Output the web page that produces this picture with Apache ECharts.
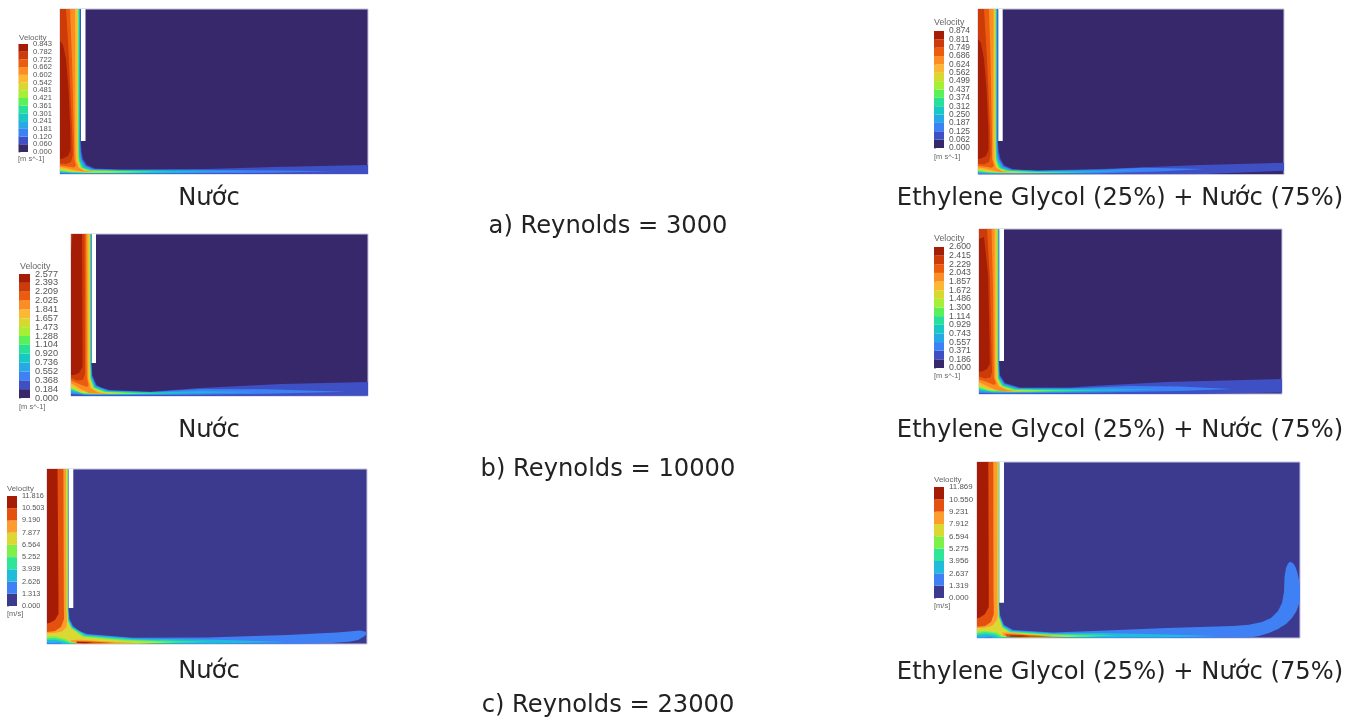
<!DOCTYPE html>
<html>
<head>
<meta charset="utf-8">
<title>Velocity contours</title>
<script src="https://cdn.jsdelivr.net/npm/echarts@6/dist/echarts.min.js"></script>
<style>
html, body { margin: 0; background: #fff; }
#chart { width: 1364px; height: 720px; filter: blur(0.5px); }
</style>
</head>
<body>
<div id="chart"></div>
<script>
// legend tick labels, bottom to top
var ticksA1 = ['0.000','0.060','0.120','0.181','0.241','0.301','0.361','0.421','0.481','0.542','0.602','0.662','0.722','0.782','0.843'];
var ticksA2 = ['0.000','0.062','0.125','0.187','0.250','0.312','0.374','0.437','0.499','0.562','0.624','0.686','0.749','0.811','0.874'];
var ticksB1 = ['0.000','0.184','0.368','0.552','0.736','0.920','1.104','1.288','1.473','1.657','1.841','2.025','2.209','2.393','2.577'];
var ticksB2 = ['0.000','0.186','0.371','0.557','0.743','0.929','1.114','1.300','1.486','1.672','1.857','2.043','2.229','2.415','2.600'];
var ticksC1 = ['0.000','1.313','2.626','3.939','5.252','6.564','7.877','9.190','10.503','11.816'];
var ticksC2 = ['0.000','1.319','2.637','3.956','5.275','6.594','7.912','9.231','10.550','11.869'];

var colors14 = ['#36286a','#3f4fc4','#3d82f4','#27a9e6','#17c8c4','#28e09a','#5af05a','#a5ef34','#d8d92e','#fdb833','#fb8d22','#eb5c0f','#cc3b08','#a51d04'];
var colors9 = ['#3c3a8e','#3f80f5','#21bcdc','#2fe59a','#7df04a','#dcd833','#fe9c2e','#e4500d','#a51b04'];

// contour bands [level, outline], painted low to high
var wallA1 = [[21,0],[25.5,0],[25.5,132],[21,132]];
var contoursA1 = [
	[1,[[20.8,0],[20.8,132],[21.5,142],[23,150],[27,156],[35,159.5],[57,160.4],[147,160],[213,158],[308,156],[308,165],[0,165],[0,0]]],
	[2,[[20.3,0],[20.3,133],[20.8,143],[22,150.5],[26,156.8],[34,160],[60,160.8],[150,160.8],[220,161.4],[273,162.3],[210,163.8],[120,164.6],[20,164.8],[0,164.6],[0,0]]],
	[3,[[19.8,0],[19.8,133],[20.1,144],[21.2,151],[25,157.4],[33,160.4],[60,161.1],[130,161.6],[187,162.5],[120,164],[40,164.4],[15,164.4],[0,164],[0,0]]],
	[4,[[19.3,0],[19.3,133],[19.5,145],[20.5,151.5],[24,158],[32,160.8],[60,161.5],[110,162],[147,162.6],[100,163.8],[40,164.1],[14,164],[0,163.4],[0,0]]],
	[5,[[18.9,0],[18.9,134],[19,146],[19.8,152],[23,158.4],[31,161.1],[60,161.8],[113,162.7],[80,163.6],[35,163.9],[12,163.6],[0,162.7],[0,0]]],
	[6,[[18.5,0],[18.5,134],[18.5,147],[19.2,152.5],[22.3,158.8],[30,161.4],[60,162.1],[97,162.8],[70,163.5],[32,163.7],[11,163.2],[0,162],[0,0]]],
	[7,[[18.1,0],[18.1,134],[18.5,150.5],[21,158.8],[29,161.7],[55,162.4],[80,162.9],[55,163.4],[28,163.5],[10,162.8],[0,161.3],[0,0]]],
	[8,[[17.7,0],[17.7,134],[18,151],[20.5,159],[28,161.9],[45,162.5],[60,163],[40,163.3],[24,163.2],[9,162.2],[0,160.5],[0,0]]],
	[9,[[17.2,0],[17.2,134],[17.5,151.5],[20,159.2],[27,162.2],[43,163],[27,163],[18,162.5],[8,161.2],[0,159.5],[0,0]]],
	[10,[[15,0],[15.3,130],[15.8,151],[18.5,158.6],[24,161.8],[33,162.8],[22,162.6],[14,161],[6,159],[0,158],[0,0]]],
	[11,[[10,0],[12,50],[14,130],[14.3,150],[16,156.5],[14,158.5],[8,157.5],[0,156.5],[0,0]]],
	[12,[[6,0],[9,50],[12,120],[12.8,146],[11,153],[6,155],[0,154.5],[0,0]]],
	[13,[[0,32],[3,36],[6,50],[8.5,80],[10.3,120],[10.5,141],[8,147],[3,149.5],[0,150]]]
];
var wallA2 = [[20.3,0],[24.7,0],[24.7,132],[20.3,132]];
var contoursA2 = [
	[1,[[20,0],[20,132],[20.8,142],[22.5,150],[26.5,156.5],[35,160.2],[57,161.5],[122,160],[222,156],[306,153.7],[306,161.7],[229,165],[0,165.5],[0,0]]],
	[2,[[19.5,0],[19.5,133],[20,143],[21.5,150.5],[25.5,157.2],[34,160.6],[60,161.8],[125,160.6],[165,158.8],[227,160],[180,162.5],[120,164.4],[20,165],[0,165],[0,0]]],
	[3,[[19,0],[19,133],[19.4,144],[20.7,151],[24.5,157.8],[33,161],[60,162.1],[120,161.6],[165,161],[110,163.8],[40,164.6],[15,164.6],[0,164.2],[0,0]]],
	[4,[[18.6,0],[18.6,134],[18.9,145],[20,151.5],[23.5,158.4],[32,161.3],[60,162.4],[100,162.4],[132,162.4],[90,163.8],[40,164.3],[14,164.2],[0,163.6],[0,0]]],
	[5,[[18.2,0],[18.2,134],[18.4,146],[19.3,152],[22.5,158.8],[31,161.6],[60,162.7],[110,163],[80,163.9],[35,164.1],[12,163.8],[0,162.9],[0,0]]],
	[6,[[17.8,0],[17.8,134],[18,147],[18.7,152.5],[21.8,159.2],[30,161.9],[55,163],[95,163.2],[70,163.7],[32,163.9],[11,163.4],[0,162.2],[0,0]]],
	[7,[[17.5,0],[17.5,134],[17.9,150.5],[20.5,159],[29,162.2],[50,163.1],[80,163.3],[55,163.6],[28,163.7],[10,163],[0,161.5],[0,0]]],
	[8,[[17.1,0],[17.1,134],[17.4,151],[20,159.2],[28,162.4],[45,163.1],[65,163.4],[40,163.5],[24,163.4],[9,162.4],[0,160.7],[0,0]]],
	[9,[[16.6,0],[16.6,134],[16.9,151.5],[19.5,159.4],[27,162.7],[45,163.4],[27,163.3],[18,162.7],[8,161.4],[0,159.7],[0,0]]],
	[10,[[15.5,0],[15.2,130],[15.5,151],[18,158.8],[24,162.2],[32,163.2],[22,163],[14,161.2],[6,159.2],[0,158.2],[0,0]]],
	[11,[[11,0],[12.5,50],[14,130],[14,150],[16,156.7],[14,158.7],[8,157.7],[0,156.7],[0,0]]],
	[12,[[6,0],[9,50],[12,120],[12.5,146],[11,153],[6,155.2],[0,154.7],[0,0]]],
	[13,[[0,30],[3,34],[6,50],[8.5,80],[10.3,120],[10.5,141],[8,147],[3,149.5],[0,150]]]
];
var wallB1 = [[20.7,0],[25,0],[25,129],[20.7,129]];
var contoursB1 = [
	[1,[[20.6,0],[20.6,129],[21.3,141],[25.7,151],[31,154],[39,156],[79,157.7],[129,154],[210,150],[297,148],[297,161.5],[150,162],[0,162],[0,0]]],
	[2,[[20.3,0],[20.3,130],[21,142],[25,151.8],[38,156.5],[80,158],[129,155],[196,155.3],[276,157.8],[196,159.8],[100,161],[20,161.3],[0,160],[0,0]]],
	[3,[[20,0],[20,130],[20.6,142.5],[24.5,152.3],[37,156.9],[80,158.3],[129,157],[186,158],[129,159.5],[60,160.6],[16,160.8],[0,158.5],[0,0]]],
	[4,[[19.8,0],[19.8,130],[20.2,143],[24,152.8],[36,157.2],[80,158.6],[150,158.5],[100,159.5],[50,160.3],[14,160.4],[0,157],[0,0]]],
	[5,[[19.5,0],[19.5,131],[19.9,143.5],[23.5,153.2],[35,157.5],[70,158.8],[118,158.8],[80,159.6],[45,160],[13,160],[0,156],[0,0]]],
	[6,[[19.2,0],[19.2,131],[19.6,144],[23,153.6],[34,157.8],[65,159],[95,159.1],[65,159.6],[40,159.8],[12,159.6],[0,155],[0,0]]],
	[7,[[18.9,0],[18.9,131],[19.3,144.5],[22.5,154],[33,158.1],[55,159],[78,159.3],[55,159.6],[35,159.7],[11,159.1],[0,154],[0,0]]],
	[8,[[18.5,0],[18.5,131],[18.9,145],[22,154.4],[32,158.4],[45,159.2],[60,159.5],[42,159.6],[28,159.6],[10,158.4],[0,152.5],[0,0]]],
	[9,[[18,0],[18,131],[18.3,145.5],[21,154.8],[31,158.7],[45,159.4],[31,159.6],[22,159.4],[9,157],[0,151],[0,0]]],
	[10,[[16.5,0],[16.8,128],[17,145],[19.5,154],[27,158.4],[38,159.5],[25,159.6],[18,159],[8,154],[0,149],[0,0]]],
	[11,[[15,0],[15.5,128],[15.8,143],[17.5,151],[16,153],[8,150],[0,146.5],[0,0]]],
	[12,[[13.5,0],[14,128],[14,140],[12,146],[6,146.5],[0,144],[0,0]]],
	[13,[[1.5,0],[11,0],[11.5,120],[11.5,133],[8,139],[3,141],[0,141],[0,20]]]
];
var wallB2 = [[20.3,0],[25,0],[25,132],[20.3,132]];
var contoursB2 = [
	[1,[[20.2,0],[20.2,132],[21,146],[26,154],[41,158.5],[91,158.6],[121,156.5],[188,153],[303,150],[303,163.5],[217,165],[0,165],[0,0]]],
	[2,[[19.9,0],[19.9,133],[20.6,147],[25.5,154.6],[40,159],[91,159.2],[150,157],[200,157.5],[254,160],[200,162],[110,163.8],[20,164.5],[0,164],[0,0]]],
	[3,[[19.6,0],[19.6,133],[20.2,148],[25,155.2],[39,159.5],[91,159.8],[130,159.5],[181,160.5],[130,162.3],[60,163.5],[16,163.7],[0,162.5],[0,0]]],
	[4,[[19.3,0],[19.3,134],[19.8,148.5],[24.5,155.8],[38,159.9],[90,160.4],[148,161],[100,162.3],[50,163.2],[14,163.2],[0,161.3],[0,0]]],
	[5,[[19,0],[19,134],[19.5,149],[24,156.3],[37,160.3],[80,160.8],[121,161.2],[80,162.4],[45,162.9],[13,162.8],[0,160.3],[0,0]]],
	[6,[[18.7,0],[18.7,134],[19.2,149.5],[23.5,156.8],[36,160.6],[70,161.2],[95,161.5],[65,162.3],[40,162.6],[12,162.2],[0,159.3],[0,0]]],
	[7,[[18.4,0],[18.4,134],[18.8,150],[23,157.2],[35,160.9],[60,161.5],[78,161.7],[55,162.2],[35,162.4],[11,161.6],[0,158.3],[0,0]]],
	[8,[[18,0],[18,134],[18.4,150.5],[22.5,157.6],[34,161.2],[50,161.7],[65,161.9],[45,162.2],[30,162.3],[10,160.8],[0,157],[0,0]]],
	[9,[[17.5,0],[17.5,134],[17.9,151],[22,158],[33,161.5],[46,161.9],[32,162.2],[24,162.1],[9,159.8],[0,155.5],[0,0]]],
	[10,[[15.5,0],[16,130],[16.3,150],[20,157.5],[28,161],[36,162],[25,162.2],[18,161.4],[8,157],[0,153],[0,0]]],
	[11,[[12.5,0],[14,60],[14.5,130],[14.8,148],[17,154.5],[15,156],[8,153],[0,150.5],[0,0]]],
	[12,[[8,0],[11,50],[12.5,125],[13,143],[11.5,148.5],[6,149.5],[0,147.5],[0,0]]],
	[13,[[0,10],[5,8],[9,45],[10.5,110],[10.8,135],[8,140],[3,142.5],[0,142.7]]]
];
var wallC1 = [[21.7,0],[26.3,0],[26.3,139],[21.7,139]];
var contoursC1 = [
	[1,[[21.5,0],[21.5,139],[22.5,150],[26,157],[32,162],[40,165],[86,168.7],[160,168.5],[240,166],[290,163.5],[305,162.2],[313,161.6],[318,162.5],[320,164.5],[317,167.5],[311,171],[302,172.8],[285,174],[256,174.8],[0,175],[0,0]]],
	[2,[[21.2,0],[21.2,140],[22,151],[25.5,158],[39,165.8],[86,169.6],[170,170.8],[240,173],[170,174.5],[60,174.8],[16,175],[12,173.5],[6,174],[0,173.5],[0,0]]],
	[3,[[20.9,0],[20.9,140],[21.6,151.5],[25,158.5],[38,166.5],[86,170.4],[130,171.8],[163,172.8],[120,174.2],[60,174.7],[22,174.5],[16,172.5],[8,170.8],[0,171],[0,0]]],
	[4,[[20.6,0],[20.6,141],[21.2,152],[24.5,159],[37,167.2],[80,171],[133,173],[100,174.3],[55,174.6],[24,174.1],[17,171],[8,169],[0,169.5],[0,0]]],
	[5,[[20.3,0],[20.3,141],[20.8,152.5],[24,159.5],[36,168],[75,171.7],[120,173.4],[90,174.4],[50,174.5],[26,174],[19,170],[8,167.3],[0,167.7],[0,0]]],
	[6,[[19,0],[19.3,139],[20,152],[19.5,158],[15,162.5],[7,164],[0,164.3],[0,0]]],
	[6,[[24,171],[34,170.8],[60,172.4],[90,173.9],[60,174.5],[30,174.2],[24,173]]],
	[7,[[16.4,0],[16.8,130],[17,150],[14,158],[8,162],[0,163],[0,0]]],
	[7,[[29,172],[45,172.6],[68,174],[45,174.5],[30,174.2]]],
	[8,[[0,0],[10.5,0],[11.5,130],[11.5,145],[8,151],[3,153.8],[0,154.5]]],
	[8,[[30,173],[40,173],[46,173.8],[38,174.3],[30,174.1]]]
];
var wallC2 = [[22.3,0],[27,0],[27,140.7],[22.3,140.7]];
var contoursC2 = [
	[1,[[22.2,0],[22.2,140.7],[23,153],[27,163],[36,168],[76,170.5],[123,168.7],[190,166],[256,164],[272,162.8],[285,160],[294,156],[301,149],[305,141],[307,130],[307.5,115],[309,106],[311,101.5],[313,99.7],[316,101],[318.5,105],[320.5,111],[322,118],[323,124],[323,136],[322,142],[319.5,149],[315,156],[309,162],[301,167],[292,171],[282,174],[273,175.5],[200,176],[0,176],[0,0]]],
	[2,[[21.9,0],[21.9,141],[22.6,154],[26.5,163.8],[35,168.7],[76,171.3],[123,171],[190,172.5],[241,174],[190,175.3],[70,175.7],[17,176],[13,174.5],[6,175.5],[0,175.3],[0,0]]],
	[3,[[21.7,0],[21.7,141],[22.3,154.5],[26,164.5],[34,169.3],[76,172],[123,172.8],[140,173.3],[110,174.8],[60,175.5],[22,175.4],[17,173],[8,172],[0,173],[0,0]]],
	[4,[[21.6,0],[21.6,141],[22,155],[25.5,165],[33,170],[70,172.6],[123,174],[90,175],[50,175.4],[24,174.8],[19,171.5],[8,170],[0,171.3],[0,0]]],
	[5,[[21.4,0],[21.4,141],[21.7,155],[25,165.5],[32,170.6],[65,173],[100,174],[80,175],[45,175.3],[26,174.6],[20,170.5],[8,168.8],[0,169.7],[0,0]]],
	[6,[[20.3,0],[20.3,141],[20.8,152],[20,158],[15,164],[7,165.8],[0,166],[0,0]]],
	[6,[[25,170.5],[32,170.5],[50,172.5],[90,174.5],[60,175.3],[32,175],[26,173.5]]],
	[7,[[16.3,0],[16.5,130],[16.8,152],[14,160],[8,164],[0,164.7],[0,0]]],
	[7,[[28,172],[45,172.8],[76,174.8],[45,175.3],[30,175]]],
	[8,[[0,0],[11.3,0],[11.8,130],[11.8,145],[8,152],[3,155.5],[0,156.3]]],
	[8,[[33,173.5],[45,173.6],[53,174.3],[42,174.8],[33,174.6]]]
];

var captionWater = 'Nước';
var captionMix = 'Ethylene Glycol (25%) + Nước (75%)';
var captionsRe = ['a) Reynolds = 3000','b) Reynolds = 10000','c) Reynolds = 23000'];
var unitsSi = '[m s^-1]', unitsMs = '[m/s]';

var plots = [
	{ box:[60,9,308,165],    w:308, h:165,   contours:contoursA1, wall:wallA1, colors:colors14,
	  bar:[18.5,44,9.5,108], ticks:ticksA1, tickSize:7.6, units:unitsSi, vel:[19,33.5], velSize:8, un:[18,155] },
	{ box:[978,9,306,165.5], w:306, h:165.5, contours:contoursA2, wall:wallA2, colors:colors14,
	  bar:[934,31,10,117], ticks:ticksA2, tickSize:8.4, units:unitsSi, vel:[934,18.5], velSize:8.8, un:[934,152.5] },
	{ box:[71,234,297,162],  w:297, h:162,   contours:contoursB1, wall:wallB1, colors:colors14,
	  bar:[19,274,11,124], ticks:ticksB1, tickSize:9.2, units:unitsSi, vel:[20,262], velSize:8.8, un:[19,402.5] },
	{ box:[979,229,303,165], w:303, h:165,   contours:contoursB2, wall:wallB2, colors:colors14,
	  bar:[934,247,10,121], ticks:ticksB2, tickSize:8.8, units:unitsSi, vel:[934,234], velSize:8.8, un:[934,371.5] },
	{ box:[47,469,320,175],  w:320, h:175,   contours:contoursC1, wall:wallC1, colors:colors9,
	  bar:[7,496,10,110],  ticks:ticksC1, tickSize:7.3, units:unitsMs, vel:[7,484.5], velSize:7.8, un:[7,610] },
	{ box:[977,462,323,176], w:323, h:176,   contours:contoursC2, wall:wallC2, colors:colors9,
	  bar:[934,487,10,111], ticks:ticksC2, tickSize:7.9, units:unitsMs, vel:[934,475.5], velSize:8, un:[934,601.5] }
];

function bandSeries(contours, palette, g) {
	return {
		type: 'custom', xAxisIndex: g, yAxisIndex: g, silent: true, clip: true,
		data: contours.map(function (c, i) { return [i]; }),
		renderItem: function (params, api) {
			var c = contours[params.dataIndex];
			return { type: 'polygon', shape: { points: c[1].map(function (p) { return api.coord(p); }) },
				style: { fill: palette[c[0]] } };
		}
	};
}

function cellSeries(palette, g) {
	return {
		type: 'custom', xAxisIndex: g, yAxisIndex: g, silent: true,
		data: palette.map(function (c, i) { return [0, i]; }),
		renderItem: function (params, api) {
			var i = params.dataIndex, a = api.coord([0, i]), b = api.coord([1, i + 1]);
			return { type: 'rect', shape: { x: a[0], y: b[1], width: b[0] - a[0], height: a[1] - b[1] },
				style: { fill: palette[i] } };
		}
	};
}

function text(str, x, y, size, color, align, font) {
	return { text: str, left: x, top: y, textAlign: align || 'left', padding: 0,
		textStyle: { fontFamily: font || 'Liberation Sans', fontSize: size, fontWeight: 'normal', color: color } };
}

var grids = [], xAxes = [], yAxes = [], series = [], titles = [];
plots.forEach(function (p) {
	var g = grids.length;
	grids.push({ left: p.box[0], top: p.box[1], width: p.box[2], height: p.box[3], show: true,
		backgroundColor: p.colors[0], borderColor: '#c6c3dc', borderWidth: 1 });
	xAxes.push({ gridIndex: g, type: 'value', min: 0, max: p.w, show: false });
	yAxes.push({ gridIndex: g, type: 'value', min: 0, max: p.h, inverse: true, show: false });
	series.push(bandSeries(p.contours, p.colors, g));
	series.push(bandSeries([[0, p.wall]], ['#ffffff'], g));

	g = grids.length;
	grids.push({ left: p.bar[0], top: p.bar[1], width: p.bar[2], height: p.bar[3] });
	xAxes.push({ gridIndex: g, type: 'value', min: 0, max: 1, show: false });
	yAxes.push({ gridIndex: g, type: 'category', position: 'right', boundaryGap: false, data: p.ticks,
		axisLine: { show: false },
		axisTick: { show: true, length: 2, inside: false, lineStyle: { color: '#888', width: 0.6 } },
		axisLabel: { interval: 0, fontFamily: 'Liberation Sans', fontSize: p.tickSize, color: '#555', margin: 5 } });
	series.push(cellSeries(p.colors, g));

	titles.push(text('Velocity', p.vel[0], p.vel[1], p.velSize, '#666'));
	titles.push(text(p.units, p.un[0], p.un[1], 7.5, '#666'));
});
var capFont = 'DejaVu Sans', capSize = 24.2, capColor = '#222';
[187, 419, 660].forEach(function (y) { titles.push(text(captionWater, 209, y, capSize, capColor, 'center', capFont)); });
[187, 419, 661].forEach(function (y) { titles.push(text(captionMix, 1120, y, capSize, capColor, 'center', capFont)); });
titles.push(text(captionsRe[0], 608, 215, capSize, capColor, 'center', capFont));
titles.push(text(captionsRe[1], 608, 458, capSize, capColor, 'center', capFont));
titles.push(text(captionsRe[2], 608, 694, capSize, capColor, 'center', capFont));

var chart = echarts.init(document.getElementById('chart'));
chart.setOption({
	animation: false,
	backgroundColor: '#ffffff',
	title: titles,
	grid: grids,
	xAxis: xAxes,
	yAxis: yAxes,
	series: series
});
</script>
</body>
</html>
